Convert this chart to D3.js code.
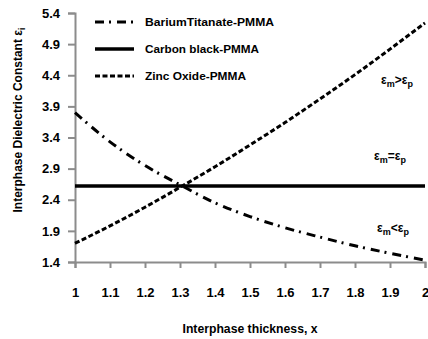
<!DOCTYPE html>
<html>
<head>
<meta charset="utf-8">
<script src="https://cdn.jsdelivr.net/npm/d3@7"></script>
<style>
  body { margin: 0; background: #fff; }
  text { font-family: "Liberation Sans Narrow", "Liberation Sans", Arial, sans-serif; font-weight: bold; }
</style>
</head>
<body>
<script>
var width = 428;
var height = 339;

var thickness = [1, 1.1, 1.2, 1.3, 1.4, 1.5, 1.6, 1.7, 1.8, 1.9, 2];
var bariumTitanate = [3.80, 3.33, 2.95, 2.64, 2.35, 2.13, 1.95, 1.80, 1.66, 1.54, 1.43];
var carbonBlack = [2.62, 2.62, 2.62, 2.62, 2.62, 2.62, 2.62, 2.62, 2.62, 2.62, 2.62];
var zincOxide = [1.70, 1.98, 2.28, 2.60, 2.93, 3.28, 3.64, 4.02, 4.41, 4.82, 5.24];
var yTicks = [1.4, 1.9, 2.4, 2.9, 3.4, 3.9, 4.4, 4.9, 5.4];
var xTicks = [1, 1.1, 1.2, 1.3, 1.4, 1.5, 1.6, 1.7, 1.8, 1.9, 2];
var seriesNames = ["BariumTitanate-PMMA", "Carbon black-PMMA", "Zinc Oxide-PMMA"];

var series = [
  {name: seriesNames[0], values: bariumTitanate, dash: "9,5,2,6", w: 3},
  {name: seriesNames[1], values: carbonBlack, dash: null, w: 3.5},
  {name: seriesNames[2], values: zincOxide, dash: "5,2.5", w: 3}
];

var svg = d3.select("body").append("svg")
  .attr("width", width)
  .attr("height", height);

var x = d3.scaleLinear().domain([1, 2]).range([75, 425]);
var y = d3.scaleLinear().domain([1.4, 5.4]).range([262, 13]);

// axes
var xAxis = svg.append("g")
  .attr("transform", "translate(0," + y(1.4) + ")")
  .call(d3.axisBottom(x).tickValues(xTicks).tickSize(6).tickPadding(20)
    .tickFormat(function(d){ return d3.format("")(+d.toFixed(1)); }));
var yAxis = svg.append("g")
  .attr("transform", "translate(" + x(1) + ",0)")
  .call(d3.axisLeft(y).tickValues(yTicks).tickSize(7).tickPadding(8).tickFormat(d3.format(".1f")));

[xAxis, yAxis].forEach(function(g){
  g.select(".domain").attr("stroke", "#8c8c8c").attr("stroke-width", 2);
  g.selectAll(".tick line").attr("stroke", "#8c8c8c").attr("stroke-width", 2);
  g.selectAll(".tick text").attr("fill", "#000").style("font-size", "13px");
});

// lines
var line = d3.line()
  .x(function(d, i){ return x(thickness[i]); })
  .y(function(d){ return y(d); })
  .curve(d3.curveMonotoneX);

svg.selectAll(".series")
  .data(series)
  .enter()
  .append("path")
  .attr("class", "series")
  .attr("d", function(d){ return line(d.values); })
  .attr("fill", "none")
  .attr("stroke", "#000")
  .attr("stroke-width", function(d){ return d.w; })
  .attr("stroke-dasharray", function(d){ return d.dash; });

// legend
var legend = svg.selectAll(".legend")
  .data(series)
  .enter()
  .append("g")
  .attr("class", "legend")
  .attr("transform", function(d, i){ return "translate(95," + (22 + i * 27) + ")"; });

legend.append("line")
  .attr("x1", 0).attr("x2", 39)
  .attr("stroke", "#000")
  .attr("stroke-width", function(d){ return d.w; })
  .attr("stroke-dasharray", function(d){ return d.dash; });

legend.append("text")
  .attr("x", 50)
  .attr("dy", "0.35em")
  .style("font-size", "11px")
  .attr("textLength", function(d, i){ return [129, 114, 101][i]; })
  .attr("lengthAdjust", "spacingAndGlyphs")
  .text(function(d){ return d.name; });

// region notes
var notes = [
  {rel: ">", px: 381, py: 84},
  {rel: "=", px: 374, py: 160},
  {rel: "<", px: 377, py: 232}
];
var noteText = svg.selectAll(".note")
  .data(notes)
  .enter()
  .append("text")
  .attr("class", "note")
  .attr("x", function(d){ return d.px; })
  .attr("y", function(d){ return d.py; })
  .style("font-size", "12px");
noteText.append("tspan").text("ε");
noteText.append("tspan").attr("dy", 3).style("font-size", "9px").text("m");
noteText.append("tspan").attr("dy", -3).text(function(d){ return d.rel + "ε"; });
noteText.append("tspan").attr("dy", 3).style("font-size", "9px").text("p");

// axis titles
svg.append("text")
  .attr("x", 250)
  .attr("y", 333)
  .attr("text-anchor", "middle")
  .style("font-size", "12px")
  .attr("textLength", 135)
  .attr("lengthAdjust", "spacingAndGlyphs")
  .text("Interphase thickness, x");

var yTitle = svg.append("text")
  .attr("transform", "translate(22,120) rotate(-90)")
  .attr("text-anchor", "middle")
  .style("font-size", "12px");
yTitle.append("tspan").text("Interphase Dielectric Constant ε");
yTitle.append("tspan").attr("dy", 3).style("font-size", "9px").text("i");
</script>
</body>
</html>
